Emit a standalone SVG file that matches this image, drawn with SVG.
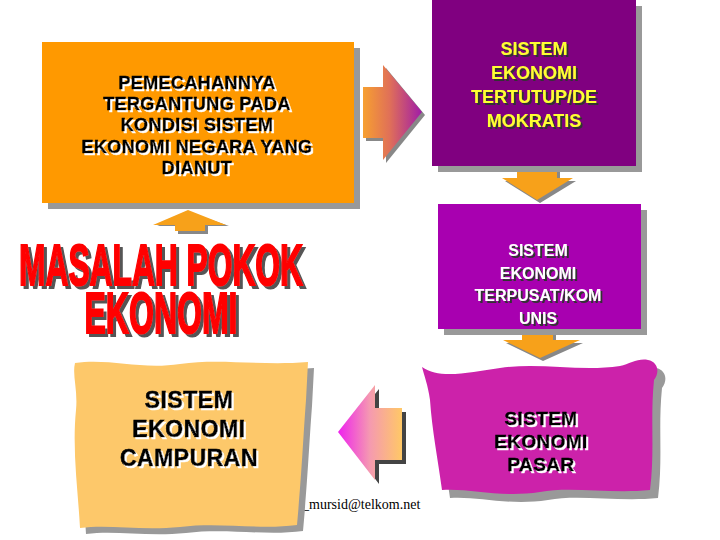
<svg xmlns="http://www.w3.org/2000/svg" width="720" height="540" viewBox="0 0 720 540">
<defs>
<style>
.b{font-family:"Liberation Sans",Arial,sans-serif;font-weight:bold;text-anchor:middle}
.shd{fill:#999999}
.org{fill:#F7A11A}
</style>
<filter id="ws" x="-10%" y="-10%" width="120%" height="130%">
<feOffset in="SourceAlpha" dx="1.5" dy="1.5" result="o"/>
<feFlood flood-color="#ffffff"/>
<feComposite in2="o" operator="in" result="s"/>
<feMerge><feMergeNode in="s"/><feMergeNode in="SourceGraphic"/></feMerge>
</filter>
<filter id="ds" x="-10%" y="-10%" width="120%" height="130%">
<feOffset in="SourceAlpha" dx="1.5" dy="1.5" result="o"/>
<feFlood flood-color="#333333"/>
<feComposite in2="o" operator="in" result="s"/>
<feMerge><feMergeNode in="s"/><feMergeNode in="SourceGraphic"/></feMerge>
</filter>
<filter id="bs" x="-10%" y="-10%" width="120%" height="130%">
<feOffset in="SourceAlpha" dx="3" dy="3" result="o"/>
<feFlood flood-color="#555555"/>
<feComposite in2="o" operator="in" result="s"/>
<feMerge><feMergeNode in="s"/><feMergeNode in="SourceGraphic"/></feMerge>
</filter>
<linearGradient id="gR" x1="0" y1="0" x2="1" y2="0">
<stop offset="0" stop-color="#F7A030"/>
<stop offset="0.45" stop-color="#E07058"/>
<stop offset="1" stop-color="#A01CA8"/>
</linearGradient>
<linearGradient id="gL" x1="0" y1="0" x2="1" y2="0">
<stop offset="0" stop-color="#EE22EE"/>
<stop offset="0.5" stop-color="#F59AB0"/>
<stop offset="1" stop-color="#FFC866"/>
</linearGradient>
</defs>
<rect width="720" height="540" fill="#ffffff"/>

<text x="295" y="509" font-family="'Liberation Serif',serif" font-size="14" fill="#000">p_mursid@telkom.net</text>

<g id="connectors">
<path d="M157,226 L192,213 L229,226 L208,226 L208,234 L178,234 L178,226 Z" fill="#888"/>
<path d="M153,225 L188,210 L226,225 L205,225 L205,231 L175,231 L175,225 Z" class="org"/>
<path d="M366,90 L386,90 L386,68 L425,115 L386,163 L386,141 L366,141 Z" fill="#888"/>
<path d="M363,87 L383,87 L383,65 L422,112 L383,160 L383,138 L363,138 Z" fill="url(#gR)"/>
<path d="M520,171 L560,171 L560,181 L576,181 L540,203 L505,181 L520,181 Z" fill="#888"/>
<path d="M517,168 L557,168 L557,178 L573,178 L537,200 L502,178 L517,178 Z" class="org"/>
<path d="M525,333 L556,333 L556,343 L583,343 L543,361 L506,343 L525,343 Z" fill="#888"/>
<path d="M522,330 L553,330 L553,340 L580,340 L540,358 L503,340 L522,340 Z" class="org"/>
<path d="M342,435 L379,389 L379,412 L406,412 L406,464 L379,464 L379,484 Z" fill="#444"/>
<path d="M338,432 L375,385 L375,408 L402,408 L402,460 L375,460 L375,480 Z" fill="url(#gL)"/>
</g>

<g id="n-masalah" filter="url(#bs)">
<text class="b" x="161" y="285" font-size="58" textLength="284" lengthAdjust="spacingAndGlyphs" fill="#FF0000" stroke="#FF0000" stroke-width="2">MASALAH POKOK</text>
<text class="b" x="161" y="333" font-size="58" textLength="153" lengthAdjust="spacingAndGlyphs" fill="#FF0000" stroke="#FF0000" stroke-width="2">EKONOMI</text>
</g>

<g id="n-pemecahan">
<rect x="48" y="48" width="312" height="161" class="shd"/>
<rect x="42" y="42" width="312" height="161" fill="#FF9900"/>
<g class="b" font-size="18" letter-spacing="0.4" fill="#000" stroke="#000" stroke-width="0.5" filter="url(#ws)">
<text x="197" y="89">PEMECAHANNYA</text>
<text x="197" y="110">TERGANTUNG PADA</text>
<text x="197" y="131">KONDISI SISTEM</text>
<text x="197" y="153">EKONOMI NEGARA YANG</text>
<text x="197" y="174">DIANUT</text>
</g>
</g>

<g id="n-tertutup">
<rect x="438" y="6" width="204" height="166" class="shd"/>
<rect x="432" y="0" width="204" height="166" fill="#800080"/>
<g class="b" font-size="18" fill="#FFFF33" filter="url(#ds)">
<text x="534" y="55">SISTEM</text>
<text x="534" y="79">EKONOMI</text>
<text x="534" y="103">TERTUTUP/DE</text>
<text x="534" y="127">MOKRATIS</text>
</g>
</g>

<g id="n-terpusat">
<rect x="444" y="210" width="203" height="125" class="shd"/>
<rect x="438" y="204" width="203" height="125" fill="#A800B0"/>
<g class="b" font-size="16" fill="#ffffff" filter="url(#ds)">
<text x="538" y="256">SISTEM</text>
<text x="538" y="278.5">EKONOMI</text>
<text x="538" y="301">TERPUSAT/KOM</text>
<text x="538" y="323.5">UNIS</text>
</g>
</g>

<g id="n-pasar">
<path transform="translate(8,8)" class="shd" d="M422,367 C440,380 470,372 500,368 C540,362 580,372 620,366 C630,364 638,358 648,360 C658,362 660,372 654,380 C650,420 655,450 650,490 C610,494 570,486 540,492 C500,498 470,488 442,490 C438,460 432,430 430,400 C428,385 424,375 422,367 Z"/>
<path fill="#CC22AA" d="M422,367 C440,380 470,372 500,368 C540,362 580,372 620,366 C630,364 638,358 648,360 C658,362 660,372 654,380 C650,420 655,450 650,490 C610,494 570,486 540,492 C500,498 470,488 442,490 C438,460 432,430 430,400 C428,385 424,375 422,367 Z"/>
<g class="b" font-size="19" letter-spacing="0.4" fill="#000" stroke="#000" stroke-width="0.5" filter="url(#ws)">
<text x="541" y="425">SISTEM</text>
<text x="541" y="448">EKONOMI</text>
<text x="541" y="471">PASAR</text>
</g>
</g>

<g id="n-campuran">
<path transform="translate(6,6)" class="shd" d="M75,363 C110,358 140,370 180,364 C220,358 260,366 308,362 L306,400 C303,440 302,470 297,525 C260,530 220,522 180,527 C140,531 110,524 80,528 C78,490 72,450 76,410 C78,390 72,375 75,363 Z"/>
<path fill="#FDC86A" d="M75,363 C110,358 140,370 180,364 C220,358 260,366 308,362 L306,400 C303,440 302,470 297,525 C260,530 220,522 180,527 C140,531 110,524 80,528 C78,490 72,450 76,410 C78,390 72,375 75,363 Z"/>
<g class="b" font-size="23" letter-spacing="0.5" fill="#000" stroke="#000" stroke-width="0.6" filter="url(#ws)">
<text x="189" y="408">SISTEM</text>
<text x="189" y="437">EKONOMI</text>
<text x="189" y="466">CAMPURAN</text>
</g>
</g>
</svg>
